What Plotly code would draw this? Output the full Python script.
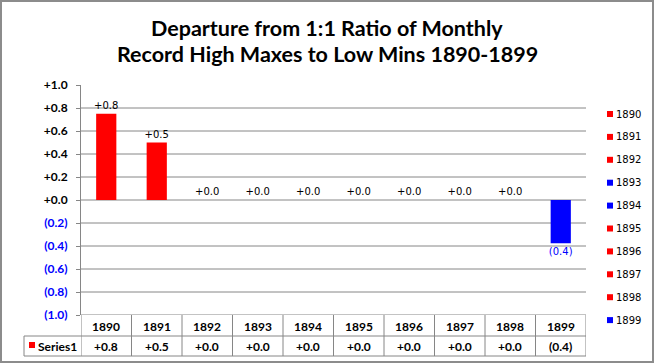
import plotly.graph_objects as go

# ---------------- data ----------------
years = ["1890", "1891", "1892", "1893", "1894", "1895", "1896", "1897", "1898", "1899"]
values = [0.75, 0.50, 0.0, 0.0, 0.0, 0.0, 0.0, 0.0, 0.0, -0.375]
year_colors = ["#FF0000", "#FF0000", "#FF0000", "#0000FF", "#0000FF",
               "#FF0000", "#FF0000", "#FF0000", "#FF0000", "#0000FF"]
series_name = "Series1"
y_ticks = [-1.0, -0.8, -0.6, -0.4, -0.2, 0.0, 0.2, 0.4, 0.6, 0.8, 1.0]
title_lines = ["Departure from 1:1 Ratio of Monthly",
               "Record High Maxes to Low Mins 1890-1899"]

# ---------------- layout constants (pixels) ----------------
FW, FH = 655, 364
L, R, T, B = 81, 586, 85, 315
W, H = R - L, B - T
GRID = "#868686"
BLUE = "#0000FF"


def px2x(px):
    return (px - L) / W


def py2y(py):
    return (B - py) / H


def fmt(v):
    s = f"{abs(v):.1f}"
    return f"+{s}" if v >= 0 else f"({s})"


xs = list(range(len(years)))
label_colors = ["#000000" if v >= 0 else BLUE for v in values]

fig = go.Figure()
fig.add_trace(go.Bar(
    x=xs, y=values, width=0.4,
    marker=dict(color=year_colors, line=dict(width=0)),
    text=[fmt(v) for v in values], textposition="outside",
    textfont=dict(family="DejaVu Sans", size=10, color=label_colors),
    constraintext="none", cliponaxis=False, showlegend=False,
))

ticktext = []
for v in y_ticks:
    if v >= 0:
        ticktext.append(f"<b>{fmt(v)}</b>")
    else:
        ticktext.append(f"<span style='color:{BLUE}'><b>{fmt(v)}</b></span>")

shapes = []
# gridlines (no line at the top value)
for v in y_ticks[:-1]:
    shapes.append(dict(type="line", xref="paper", yref="y", x0=0, x1=1, y0=v, y1=v,
                       line=dict(color=GRID, width=1), layer="below"))

# data table
row_mid, row_bot = 336, 356
for py in (row_mid, row_bot):
    shapes.append(dict(type="line", xref="paper", yref="paper", x0=px2x(24), x1=1,
                       y0=py2y(py), y1=py2y(py), line=dict(color=GRID, width=1)))
for k in range(len(years) + 1):
    shapes.append(dict(type="line", xref="x", yref="paper", x0=k - 0.5, x1=k - 0.5,
                       y0=py2y(B), y1=py2y(row_bot), line=dict(color=GRID, width=1)))
shapes.append(dict(type="line", xref="paper", yref="paper", x0=px2x(24), x1=px2x(24),
                   y0=py2y(row_mid), y1=py2y(row_bot), line=dict(color=GRID, width=1)))
# series key square
shapes.append(dict(type="rect", xref="paper", yref="paper", x0=px2x(29), x1=px2x(35),
                   y0=py2y(348), y1=py2y(342), fillcolor="#FF0000", line=dict(width=0)))

# outer frame
shapes.append(dict(type="rect", xref="paper", yref="paper", x0=px2x(1), x1=px2x(653),
                   y0=py2y(362), y1=py2y(1), line=dict(color="#8C8C8C", width=2)))

annotations = []
# title, two lines
for line, cy in zip(title_lines, (27.5, 54)):
    annotations.append(dict(x=px2x(327), xref="paper", y=py2y(cy), yref="paper",
                            text=f"<b>{line}</b>", showarrow=False, xanchor="center",
                            yanchor="middle",
                            font=dict(family="Lato", size=21.5, color="#000000")))

tfont = dict(family="Lato", size=12, color="#000000")
for i, (yr, v) in enumerate(zip(years, values)):
    annotations.append(dict(x=i, xref="x", y=py2y(326), yref="paper", text=f"<b>{yr}</b>",
                            showarrow=False, font=tfont, xanchor="center", yanchor="middle"))
    annotations.append(dict(x=i, xref="x", y=py2y(346), yref="paper", text=f"<b>{fmt(v)}</b>",
                            showarrow=False, font=tfont, xanchor="center", yanchor="middle"))
annotations.append(dict(x=px2x(36), xref="paper", y=py2y(346), yref="paper",
                        text=f"<b>{series_name}</b>", showarrow=False, font=tfont,
                        xanchor="left", yanchor="middle"))

# legend (manual, Excel-style)
leg_top, leg_step = 114, 22.9
for i, (yr, c) in enumerate(zip(years, year_colors)):
    cy = leg_top + i * leg_step
    shapes.append(dict(type="rect", xref="paper", yref="paper", x0=px2x(607), x1=px2x(613),
                       y0=py2y(cy + 3), y1=py2y(cy - 3), fillcolor=c, line=dict(width=0)))
    annotations.append(dict(x=px2x(614), xref="paper", y=py2y(cy), yref="paper", text=yr,
                            showarrow=False, xanchor="left", yanchor="middle",
                            font=dict(family="DejaVu Sans", size=10, color="#000000")))

fig.update_layout(
    width=FW, height=FH,
    margin=dict(l=L, r=FW - R, t=T, b=FH - B, pad=0),
    paper_bgcolor="white", plot_bgcolor="white",
    xaxis=dict(range=[-0.5, len(years) - 0.5], showticklabels=False, showgrid=False,
               zeroline=False, showline=False, ticks=""),
    yaxis=dict(range=[y_ticks[0], y_ticks[-1]], tickvals=y_ticks, ticktext=ticktext,
               showgrid=False, zeroline=False, showline=True, linecolor=GRID, linewidth=1,
               ticks="outside", ticklen=4, tickcolor=GRID, ticklabelstandoff=6,
               tickfont=dict(family="Lato", size=12, color="#000000")),
    shapes=shapes, annotations=annotations, showlegend=False,
    bargap=0.6,
)

fig.write_html("out.html", config={"displayModeBar": False},
               post_script="document.body.style.margin='0';document.body.style.padding='0';")
